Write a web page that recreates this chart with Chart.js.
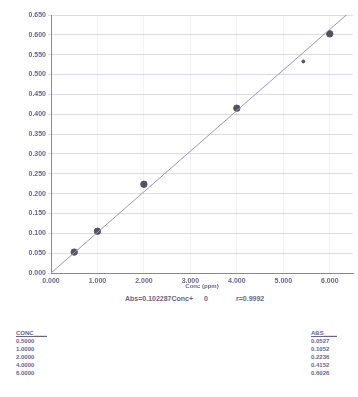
<!DOCTYPE html>
<html><head><meta charset="utf-8">
<script src="https://cdn.jsdelivr.net/npm/chart.js@4/dist/chart.umd.min.js"></script>
<style>
html,body{margin:0;padding:0;background:#fff;}
#wrap{position:relative;width:358px;height:397px;overflow:hidden;font-family:"Liberation Sans",Arial,sans-serif;color:#6a6588;font-weight:bold;}
#c{position:absolute;left:0;top:0;}
.t{position:absolute;font-size:6px;line-height:8px;white-space:pre;}
.hdr{text-decoration:underline;}
</style></head>
<body><div id="wrap"><canvas id="c" width="358" height="290"></canvas>
<div class="t" id="eq1" style="left:125px;top:295px;font-size:7px;"></div>
<div class="t" id="eq2" style="left:204px;top:295px;font-size:7px;"></div>
<div class="t" id="eq3" style="left:236px;top:295px;font-size:7px;"></div>
<div class="t" id="tl" style="left:16px;top:329px;"></div>
<div class="t" id="tr" style="left:311px;top:329px;"></div>
</div>
<script>
const conc = [0.5, 1.0, 2.0, 4.0, 6.0];
const absVals = [0.0527, 0.1052, 0.2236, 0.4152, 0.6026];
const sample = [{x: 5.43, y: 0.533}];
const slope = 0.102287;
const intercept = 0;
const rValue = 0.9992;
const xTicks = [0, 1, 2, 3, 4, 5, 6];
const yTicks = [0, 0.05, 0.10, 0.15, 0.20, 0.25, 0.30, 0.35, 0.40, 0.45, 0.50, 0.55, 0.60, 0.65];
const xTitle = "Conc (ppm)";

document.getElementById('eq1').textContent = "Abs=" + slope.toFixed(6) + "Conc+";
document.getElementById('eq2').textContent = String(intercept);
document.getElementById('eq3').textContent = "r=" + rValue.toFixed(4);
document.getElementById('tl').innerHTML = '<span class="hdr">CONC____</span>\n' + conc.map(v => v.toFixed(4)).join('\n');
document.getElementById('tr').innerHTML = '<span class="hdr">ABS____</span>\n' + absVals.map(v => v.toFixed(4)).join('\n');

const ink = '#6a6588';
const xMax = 6.5, yMax = 0.65;
new Chart(document.getElementById('c'), {
  data: {
    datasets: [
      {type: 'line', data: [{x: 0, y: intercept}, {x: xMax, y: intercept + slope * xMax}],
       borderColor: '#9a96b4', borderWidth: 1, pointRadius: 0, fill: false},
      {type: 'scatter', data: conc.map((c, i) => ({x: c, y: absVals[i]})),
       backgroundColor: '#55525f', borderColor: '#55525f', pointRadius: 3.2},
      {type: 'scatter', data: sample,
       backgroundColor: '#55525f', borderColor: '#55525f', pointRadius: 1.5}
    ]
  },
  options: {
    responsive: false, animation: false,
    layout: {padding: {top: 15, right: 0, left: 2, bottom: 0}},
    plugins: {legend: {display: false}, tooltip: {enabled: false}},
    scales: {
      x: {type: 'linear', min: 0, max: xMax,
          afterBuildTicks: s => { s.ticks = xTicks.map(v => ({value: v})); },
          afterFit: s => { s.height = 17; },
          ticks: {color: ink, font: {size: 7, weight: 'bold', family: 'Liberation Sans'}, padding: 1,
                  callback: v => Number(v).toFixed(3), maxRotation: 0, autoSkip: false},
          grid: {color: 'rgba(150,150,165,0.12)', drawTicks: true, tickLength: 3},
          border: {color: '#8a86a0', width: 1},
          title: {display: true, text: xTitle, color: ink, font: {size: 6, weight: 'bold', family: 'Liberation Sans'}, padding: {top: 0, bottom: 0}}
      },
      y: {type: 'linear', min: 0, max: yMax,
          afterBuildTicks: s => { s.ticks = yTicks.map(v => ({value: v})); },
          afterFit: s => { s.width = 49; },
          ticks: {color: ink, font: {size: 7, weight: 'bold', family: 'Liberation Sans'}, padding: 2,
                  callback: v => Number(v).toFixed(3), autoSkip: false},
          grid: {color: 'rgba(140,140,165,0.3)', tickLength: 3},
          border: {color: '#8a86a0', width: 1}
      }
    }
  }
});
</script></body></html>
